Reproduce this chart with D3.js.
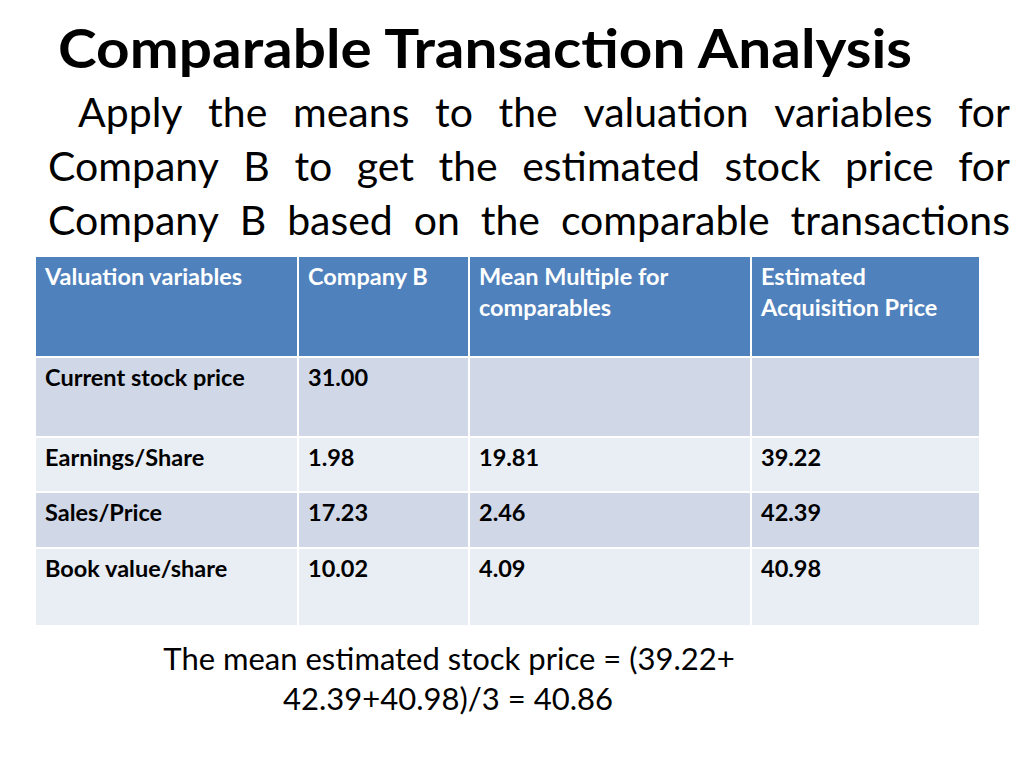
<!DOCTYPE html>
<html>
<head>
<meta charset="utf-8">
<script src="https://cdn.jsdelivr.net/npm/d3@7"></script>
<style>
  body { margin: 0; background: #fff; }
  text { font-family: Lato, "Open Sans", sans-serif; }
</style>
</head>
<body>
<div id="chart"></div>
<script>
// data
var title = "Comparable Transaction Analysis";
var introLines = [
    "Apply the means to the valuation variables for",
    "Company B to get the estimated stock price for",
    "Company B based on the comparable transactions"
];
var headers = [["Valuation variables"], ["Company B"], ["Mean Multiple for", "comparables"], ["Estimated", "Acquisition Price"]];
var rowLabels = ["Current stock price", "Earnings/Share", "Sales/Price", "Book value/share"];
var companyB = ["31.00", "1.98", "17.23", "10.02"];
var meanMultiple = ["", "19.81", "2.46", "4.09"];
var estPrice = ["", "39.22", "42.39", "40.98"];
var footerLines = ["The mean estimated stock price = (39.22+", "42.39+40.98)/3 = 40.86"];

var svg = d3.select("#chart").append("svg")
    .attr("width", 1024)
    .attr("height", 768);

svg.append("text")
    .attr("x", 58).attr("y", 68)
    .attr("font-size", 53).attr("font-weight", "bold")
    .attr("textLength", 854).attr("lengthAdjust", "spacingAndGlyphs")
    .text(title);

// justified intro paragraph
introLines.forEach(function(line, i) {
    var x0 = i === 0 ? 78 : 48, x1 = 1010;
    var words = line.split(" ");
    var g = svg.append("g");
    var nodes = words.map(function(w) {
        return g.append("text").attr("font-size", 41).attr("y", 127 + i * 54).text(w);
    });
    var total = d3.sum(nodes, n => n.node().getComputedTextLength());
    var gap = (x1 - x0 - total) / (words.length - 1);
    var x = x0;
    nodes.forEach(function(n) {
        n.attr("x", x);
        x += n.node().getComputedTextLength() + gap;
    });
});

// table
var colEdges = [35, 298, 469, 751, 980];
var rowEdges = [256, 357, 437, 492, 548, 626];
var xCol = d3.scaleOrdinal().domain([0, 1, 2, 3]).range(colEdges.slice(0, 4));
var yRow = d3.scaleOrdinal().domain([0, 1, 2, 3, 4]).range(rowEdges.slice(0, 5));
var rowFill = ["#4F81BD", "#D0D8E8", "#E9EDF4", "#D0D8E8", "#E9EDF4"];

var cells = [];
headers.forEach((h, c) => cells.push({ r: 0, c: c, lines: h }));
rowLabels.forEach(function(lbl, i) {
    [lbl, companyB[i], meanMultiple[i], estPrice[i]].forEach((v, c) =>
        cells.push({ r: i + 1, c: c, lines: [v] }));
});

var cg = svg.selectAll("g.cell").data(cells).enter().append("g").attr("class", "cell");
cg.append("rect")
    .attr("x", d => xCol(d.c))
    .attr("y", d => yRow(d.r))
    .attr("width", d => colEdges[d.c + 1] - colEdges[d.c])
    .attr("height", d => rowEdges[d.r + 1] - rowEdges[d.r])
    .attr("fill", d => rowFill[d.r])
    .attr("stroke", "#fff")
    .attr("stroke-width", 2);
cg.each(function(d) {
    var g = d3.select(this);
    d.lines.forEach(function(l, k) {
        g.append("text")
            .attr("x", xCol(d.c) + 10)
            .attr("y", yRow(d.r) + 29 + k * 31)
            .attr("font-size", 23.5)
            .attr("font-weight", "bold")
            .attr("fill", d.r === 0 ? "#fff" : "#000")
            .text(l);
    });
});

footerLines.forEach(function(l, i) {
    svg.append("text")
        .attr("x", i === 0 ? 449 : 448).attr("y", 670 + i * 40)
        .attr("text-anchor", "middle")
        .attr("font-size", 31)
        .text(l);
});
</script>
</body>
</html>
